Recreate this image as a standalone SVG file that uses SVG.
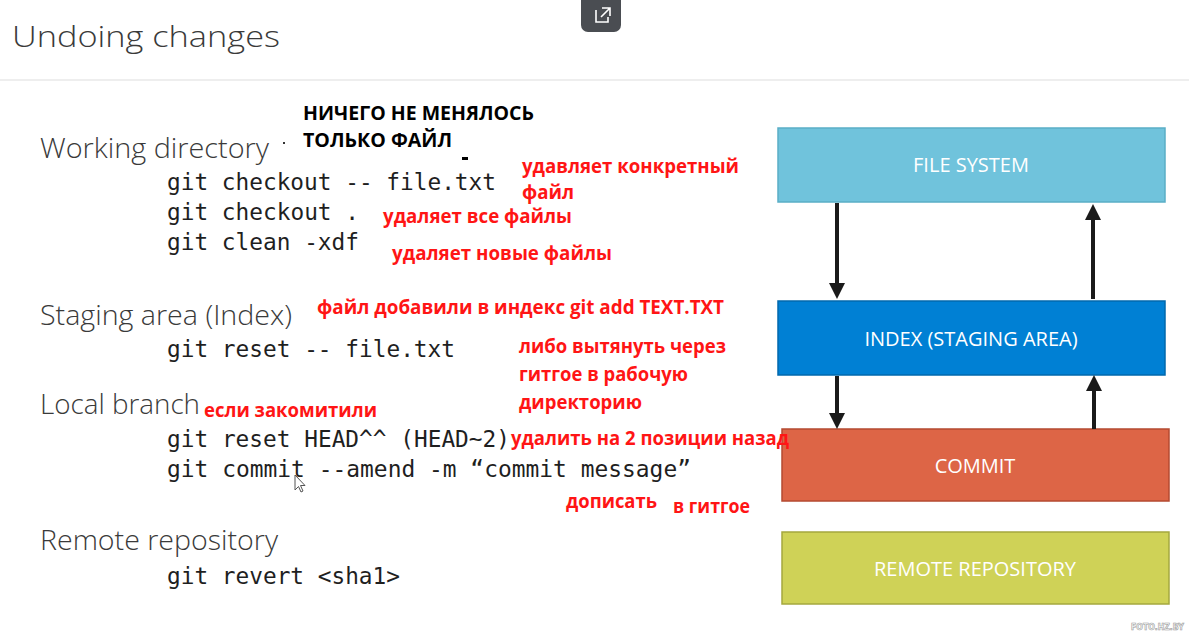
<svg xmlns="http://www.w3.org/2000/svg" width="1189" height="637" viewBox="0 0 1189 637">
<style>
.title{font-family:"Open Sans","Liberation Sans",sans-serif;font-weight:300;font-size:30px;fill:#3a3a3a}
.head{font-family:"Open Sans","Liberation Sans",sans-serif;font-weight:300;font-size:27px;fill:#3a3a3a}
.code{font-family:"DejaVu Sans Mono","Liberation Mono",monospace;font-size:22.5px;fill:#1f1f1f}
.red{font-family:"Open Sans","Liberation Sans",sans-serif;font-weight:700;font-size:19px;fill:#ff1515}
.blk{font-family:"Open Sans","Liberation Sans",sans-serif;font-weight:700;font-size:19px;fill:#000}
.box text{font-family:"Open Sans","Liberation Sans",sans-serif;font-size:20px;fill:#ffffff;text-anchor:middle}
.conn line{stroke:#1a1a1a;stroke-width:4}
</style>
<defs>
<marker id="ah" markerUnits="userSpaceOnUse" markerWidth="16" markerHeight="16" refX="0" refY="8" orient="auto">
<path d="M0,0 L16,8 L0,16 z" fill="#1a1a1a"/>
</marker>
</defs>
<rect width="1189" height="637" fill="#ffffff"/>
<g id="header">
<text class="title" x="12" y="47" textLength="268" lengthAdjust="spacingAndGlyphs">Undoing changes</text>
<rect x="0" y="79" width="1189" height="2" fill="#eeeeee"/>
<rect x="581" y="-6" width="40" height="38" rx="7" fill="#4a4d52"/>
<path d="M596,10 L596,22 L608,22 L608,17 M602,8 L610,8 L610,16 M610,8 L601,17" fill="none" stroke="#ffffff" stroke-width="1.6"/>
</g>
<g id="left-text">
<text class="head" x="40" y="158" textLength="229" lengthAdjust="spacingAndGlyphs">Working directory</text>
<text class="code" x="167" y="190" textLength="329" lengthAdjust="spacingAndGlyphs">git checkout -- file.txt</text>
<text class="code" x="167" y="220" textLength="192" lengthAdjust="spacingAndGlyphs">git checkout .</text>
<text class="code" x="167" y="250" textLength="192" lengthAdjust="spacingAndGlyphs">git clean -xdf</text>
<text class="head" x="40" y="325" textLength="252" lengthAdjust="spacingAndGlyphs">Staging area (Index)</text>
<text class="code" x="167" y="357" textLength="288" lengthAdjust="spacingAndGlyphs">git reset -- file.txt</text>
<text class="head" x="40" y="414" textLength="160" lengthAdjust="spacingAndGlyphs">Local branch</text>
<text class="code" x="167" y="447" textLength="343" lengthAdjust="spacingAndGlyphs">git reset HEAD^^ (HEAD~2)</text>
<text class="code" x="167" y="477" textLength="524" lengthAdjust="spacingAndGlyphs">git commit --amend -m “commit message”</text>
<text class="head" x="40" y="550" textLength="238" lengthAdjust="spacingAndGlyphs">Remote repository</text>
<text class="code" x="167" y="584" textLength="233" lengthAdjust="spacingAndGlyphs">git revert &lt;sha1&gt;</text>
</g>
<g id="file-system" class="box">
<rect x="778" y="128" width="387" height="74" fill="#70c3dc" stroke="#5aaec6" stroke-width="1.5"/>
<text x="971" y="172">FILE SYSTEM</text>
</g>
<g id="index" class="box">
<rect x="778" y="301" width="387" height="74" fill="#0080d4" stroke="#0068ad" stroke-width="1.5"/>
<text x="971" y="346">INDEX (STAGING AREA)</text>
</g>
<g id="commit" class="box">
<rect x="782" y="429" width="387" height="72" fill="#dd6546" stroke="#b44a31" stroke-width="1.5"/>
<text x="975" y="473">COMMIT</text>
</g>
<g id="remote-repository" class="box">
<rect x="782" y="532" width="387" height="72" fill="#cfd257" stroke="#a5a83e" stroke-width="1.5"/>
<text x="975" y="576">REMOTE REPOSITORY</text>
</g>
<g id="connectors" class="conn">
<line x1="837" y1="203" x2="837" y2="283" marker-end="url(#ah)"/>
<line x1="1093" y1="299" x2="1093" y2="220" marker-end="url(#ah)"/>
<line x1="837" y1="376" x2="837" y2="413" marker-end="url(#ah)"/>
<line x1="1094" y1="429" x2="1094" y2="391" marker-end="url(#ah)"/>
</g>
<g id="annotations">
<text class="blk" x="303" y="120" textLength="231" lengthAdjust="spacingAndGlyphs">НИЧЕГО НЕ МЕНЯЛОСЬ</text>
<text class="blk" x="303" y="147" textLength="149" lengthAdjust="spacingAndGlyphs">ТОЛЬКО ФАЙЛ</text>
<rect x="283" y="142" width="2" height="2" fill="#333"/>
<rect x="462" y="157" width="6" height="3" fill="#000"/>
<text class="red" x="522" y="173" textLength="217" lengthAdjust="spacingAndGlyphs">удавляет конкретный</text>
<text class="red" x="522" y="199" textLength="52" lengthAdjust="spacingAndGlyphs">файл</text>
<text class="red" x="383" y="223" textLength="189" lengthAdjust="spacingAndGlyphs">удаляет все файлы</text>
<text class="red" x="392" y="260" textLength="220" lengthAdjust="spacingAndGlyphs">удаляет новые файлы</text>
<text class="red" x="317" y="314" textLength="407" lengthAdjust="spacingAndGlyphs">файл добавили в индекс git add TEXT.TXT</text>
<text class="red" x="519" y="353" textLength="207" lengthAdjust="spacingAndGlyphs">либо вытянуть через</text>
<text class="red" x="519" y="381" textLength="169" lengthAdjust="spacingAndGlyphs">гитгое в рабочую</text>
<text class="red" x="519" y="409" textLength="123" lengthAdjust="spacingAndGlyphs">директорию</text>
<text class="red" x="204" y="417" textLength="173" lengthAdjust="spacingAndGlyphs">если закомитили</text>
<text class="red" x="511" y="445" textLength="278" lengthAdjust="spacingAndGlyphs">удалить на 2 позиции назад</text>
<text class="red" x="566" y="508" textLength="91" lengthAdjust="spacingAndGlyphs">дописать</text>
<text class="red" x="673" y="513" textLength="77" lengthAdjust="spacingAndGlyphs">в гитгое</text>
<path d="M295,475 L295,490 L298.5,486.5 L301,492 L303,491 L300.5,485.5 L305,485.5 Z" fill="#ffffff" stroke="#555" stroke-width="1"/>
</g>
<text x="1131" y="630" font-family="DejaVu Sans" font-size="8" font-weight="700" fill="#ffffff" stroke="#9a9a9a" stroke-width="0.6" textLength="53" lengthAdjust="spacingAndGlyphs">FOTO.HZ.BY</text>
</svg>
